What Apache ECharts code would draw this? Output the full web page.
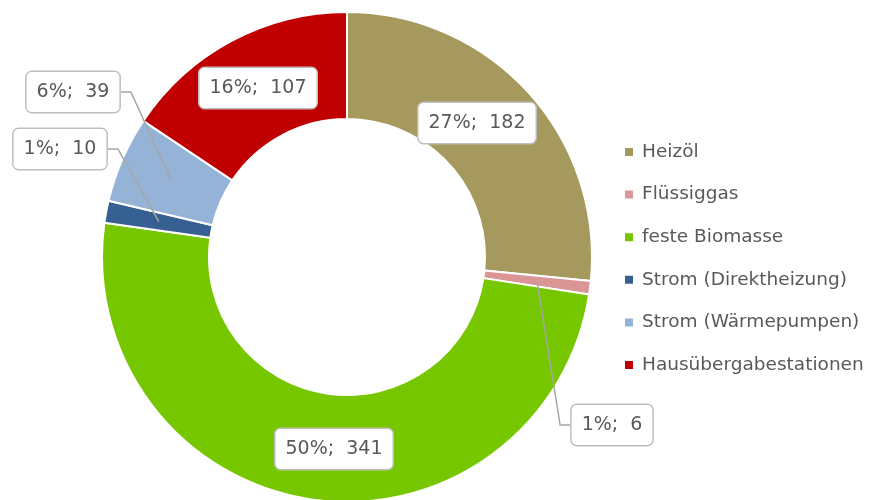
<!DOCTYPE html>
<html>
<head>
<meta charset="utf-8">
<script src="https://cdn.jsdelivr.net/npm/echarts@6/dist/echarts.min.js"></script>
<style>
  html, body { margin: 0; padding: 0; background: #fff; }
  #chart { width: 872px; height: 500px; }
</style>
</head>
<body>
<div id="chart"></div>
<script>
// Daten
const kategorien = ['Heizöl', 'Flüssiggas', 'feste Biomasse', 'Strom (Direktheizung)', 'Strom (Wärmepumpen)', 'Hausübergabestationen'];
const werte = [182, 6, 341, 10, 39, 107];
const farben = ['#A6995E', '#D99694', '#77C700', '#376092', '#95B3D7', '#C00000'];

// Lage der Beschriftungen (Mittelpunkt der Box) und ob mit Linie
const labelPos = [[477, 123], [612, 425], [334, 449], [60, 149], [73, 92], [258, 88]];
const mitLinie = [false, true, false, true, true, false];

const cx = 347, cy = 257, rInnen = 138, rAussen = 245;
const rMitte = (rInnen + rAussen) / 2;
const summe = werte.reduce((a, b) => a + b, 0);
const schrift = 'DejaVu Sans';

let myChart = echarts.init(document.getElementById('chart'));

let option = {
  animation: false,
  color: farben,
  textStyle: { fontFamily: schrift },
  legend: {
    orient: 'vertical',
    left: 623,
    top: 142,
    padding: 0,
    icon: 'rect',
    itemWidth: 10,
    itemHeight: 10,
    itemGap: 22.6,
    textStyle: { fontSize: 18.5, lineHeight: 20, color: '#595959', fontFamily: schrift, padding: [0, 0, 0, 3] },
    data: kategorien
  },
  series: [
    {
      // sichtbarer Ring
      type: 'pie',
      z: 2,
      center: [cx, cy],
      radius: [rInnen, rAussen],
      startAngle: 90,
      clockwise: true,
      label: { show: false },
      labelLine: { show: false },
      itemStyle: { borderColor: '#fff', borderWidth: 2 },
      data: kategorien.map((name, i) => ({ name: name, value: werte[i] }))
    },
    {
      // unsichtbarer Kreis bis zur Ringmitte, trägt die Beschriftungen
      type: 'pie',
      z: 5,
      silent: true,
      center: [cx, cy],
      radius: [0, rMitte],
      startAngle: 90,
      clockwise: true,
      avoidLabelOverlap: false,
      itemStyle: { color: 'rgba(0,0,0,0)', borderWidth: 0 },
      emphasis: { disabled: true },
      label: {
        show: true,
        position: 'outside',
        formatter: function (p) {
          return Math.round(p.value / summe * 100) + '%;  ' + p.value;
        },
        fontSize: 19,
        lineHeight: 19,
        color: '#595959',
        fontFamily: schrift,
        backgroundColor: '#fff',
        borderColor: '#BFBFBF',
        borderWidth: 1.5,
        borderRadius: 5,
        padding: [11, 10, 10, 10]
      },
      labelLine: {
        show: true,
        length: 10,
        length2: 10,
        lineStyle: { color: '#A6A6A6', width: 1.5 }
      },
      labelLayout: function (params) {
        const i = params.dataIndex;
        const pos = labelPos[i];
        const res = { x: pos[0], y: pos[1], align: 'center', verticalAlign: 'middle' };
        if (mitLinie[i]) {
          // Ankerpunkt in Ringmitte auf dem Mittelwinkel des Segments
          let vorher = 0;
          for (let k = 0; k < i; k++) vorher += werte[k];
          const winkel = (vorher + werte[i] / 2) / summe * Math.PI * 2;
          const anker = [cx + rMitte * Math.sin(winkel), cy - rMitte * Math.cos(winkel)];
          const w = params.labelRect.width;
          const rechts = pos[0] > cx;
          const kante = rechts ? pos[0] - w / 2 : pos[0] + w / 2;
          const knick = rechts ? kante - 10 : kante + 10;
          res.labelLinePoints = [anker, [knick, pos[1]], [kante, pos[1]]];
        }
        return res;
      },
      data: kategorien.map((name, i) => ({
        name: name,
        value: werte[i],
        labelLine: { show: mitLinie[i] }
      }))
    }
  ]
};

myChart.setOption(option, true);
</script>
</body>
</html>
